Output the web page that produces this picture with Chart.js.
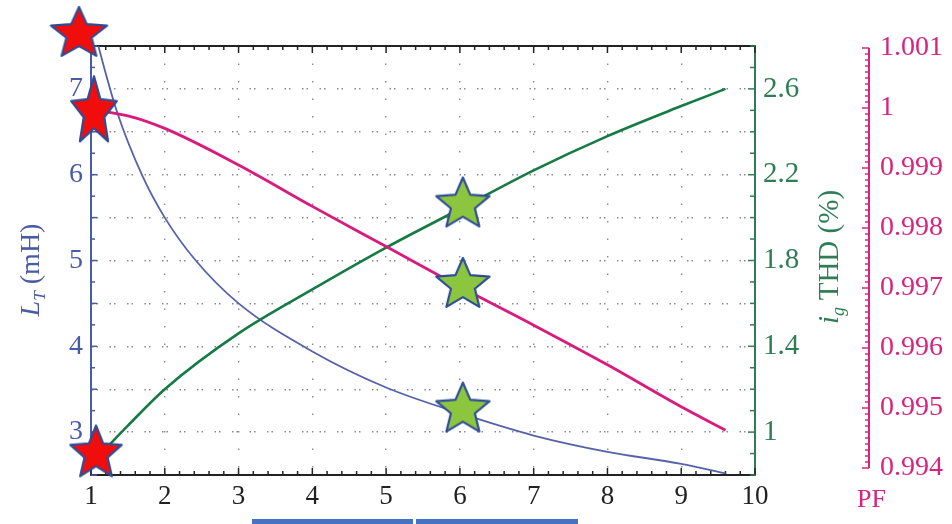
<!DOCTYPE html>
<html>
<head>
<meta charset="utf-8">
<script src="https://cdn.jsdelivr.net/npm/chart.js@4.4.1/dist/chart.umd.min.js"></script>
<style>
  body { margin: 0; background: #fff; }
  #wrap { position: relative; width: 952px; height: 524px; overflow: hidden; font-family: "Liberation Serif", serif; }
  canvas { position: absolute; left: 0; top: 0; }
  .ttl { position: absolute; width: 200px; height: 30px; line-height: 30px; white-space: nowrap; text-align: center; transform: rotate(-90deg); font-size: 28px; }
  .ttl sub { font-size: 0.62em; vertical-align: -0.35em; line-height: 0; font-style: italic; }
  .bar { position: absolute; background: #4472c4; }
</style>
</head>
<body>
<div id="wrap">
  <canvas id="chart" width="952" height="524"></canvas>
  <div class="ttl" style="left:-70px; top:255px; color:#4a5ba6;"><i>L</i><sub>T</sub> (mH)</div>
  <div class="ttl" style="left:728px; top:242px; color:#2f7d55; font-size:29px;"><i>i</i><sub>g</sub> THD (%)</div>
  <div style="position:absolute; left:857px; top:485px; font-size:26px; line-height:28px; color:#d6257f;">PF</div>
  <div class="bar" style="left:252px; top:519px; width:161px; height:5px;"></div>
  <div class="bar" style="left:416px; top:519px; width:162px; height:5px;"></div>
</div>
<script>
// readings
const ltX = [1, 1.1, 1.35, 1.7, 2, 2.4, 3, 4, 5, 6, 7, 8, 9, 9.6];
const ltValues = [7.85, 7.5, 6.74, 5.98, 5.5, 5.02, 4.5, 3.94, 3.52, 3.22, 2.96, 2.77, 2.63, 2.52];

const thdX = [1, 1.25, 1.5, 2, 3, 4, 5, 6, 7, 8, 9, 9.6];
const thdValues = [0.84, 0.94, 1.03, 1.2, 1.46, 1.665, 1.86, 2.04, 2.22, 2.38, 2.52, 2.6];

const pfX = [1, 1.5, 2, 3, 4, 5, 6, 7, 8, 9, 9.6];
const pfValues = [0.99997, 0.99987, 0.99966, 0.99905, 0.99836, 0.99769, 0.99702, 0.99638, 0.99572, 0.99502, 0.99463];

const thdTicks = [1, 1.4, 1.8, 2.2, 2.6];
const pfTicks = [0.994, 0.995, 0.996, 0.997, 0.998, 0.999, 1, 1.001];

// star marks: red at the start, green at x = 6
const ltMarks = [{ x: 0.837, y: 7.64 }, { x: 6.04, y: 3.262 }];
const thdMarks = [{ x: 1.068, y: 0.9 }, { x: 6.04, y: 2.061 }];
const pfMarks = [{ x: 1.04, y: 0.99993 }, { x: 6.04, y: 0.99705 }];

const BLUE = '#4a5ba6';
const GREEN = '#2f7d55';
const PINK = '#d6257f';

function makeStar(rx, ry, fill) {
  const w = Math.ceil(2 * rx * 0.951 + 8);
  const h = Math.ceil(2 * ry + 8);
  const c = document.createElement('canvas');
  c.width = w;
  c.height = h;
  const g = c.getContext('2d');
  g.beginPath();
  for (let i = 0; i < 10; i++) {
    const a = -Math.PI / 2 + i * Math.PI / 5;
    const r = i % 2 === 0 ? 1 : 0.45;
    const px = w / 2 + rx * r * Math.cos(a);
    const py = h / 2 + ry * r * Math.sin(a);
    if (i === 0) g.moveTo(px, py); else g.lineTo(px, py);
  }
  g.closePath();
  g.fillStyle = fill;
  g.fill();
  g.lineWidth = 2.2;
  g.lineJoin = 'round';
  g.strokeStyle = '#2f4d96';
  g.stroke();
  return c;
}

const redStar = makeStar(29.5, 27, '#f20d0d');
const redTall = makeStar(24, 36, '#f20d0d');
const redBottom = makeStar(27, 28, '#f20d0d');
const greenStar = makeStar(28, 27, '#8cc63f');

function pts(xs, ys) {
  return xs.map((x, i) => ({ x: x, y: ys[i] }));
}

const serif = 'Liberation Serif';

const innerTicks = {
  id: 'innerTicks',
  beforeDatasetsDraw(chart) {
    const { ctx, chartArea: a, scales } = chart;
    const line = (x1, y1, x2, y2) => {
      ctx.beginPath();
      ctx.moveTo(x1, y1);
      ctx.lineTo(x2, y2);
      ctx.stroke();
    };
    ctx.save();
    ctx.lineWidth = 1.5;

    ctx.strokeStyle = '#222';
    for (let i = 0; i <= 45; i++) {
      const px = scales.x.getPixelForValue(1 + i * 0.2);
      const len = i % 5 === 0 ? 7 : 4;
      line(px, a.bottom, px, a.bottom - len);
      line(px, a.top, px, a.top + len);
    }

    ctx.strokeStyle = BLUE;
    for (let i = 0; i <= 20; i++) {
      const py = scales.yL.getPixelForValue(2.5 + i * 0.25);
      line(a.left, py, a.left + (i % 2 === 0 ? 6 : 4), py);
    }

    ctx.strokeStyle = GREEN;
    for (let i = 0; i <= 20; i++) {
      const py = scales.yG.getPixelForValue(0.8 + i * 0.1);
      line(a.right, py, a.right - ((i - 2) % 4 === 0 ? 7 : 5), py);
    }

    ctx.strokeStyle = PINK;
    const px = scales.yP.left;
    ctx.lineWidth = 2;
    line(px, scales.yP.getPixelForValue(1.001), px, scales.yP.getPixelForValue(0.994));
    ctx.lineWidth = 1.5;
    for (let i = 0; i <= 70; i++) {
      const py = scales.yP.getPixelForValue(0.994 + i * 0.0001);
      line(px, py, px - (i % 10 === 0 ? 7 : 4), py);
    }
    ctx.restore();
  }
};

new Chart(document.getElementById('chart'), {
  type: 'line',
  data: {
    datasets: [
      {
        data: pts(ltX, ltValues), yAxisID: 'yL', order: 3,
        borderColor: '#5562aa', borderWidth: 1.8, pointRadius: 0,
        cubicInterpolationMode: 'monotone'
      },
      {
        data: pts(thdX, thdValues), yAxisID: 'yG', order: 2,
        borderColor: '#167a45', borderWidth: 2.6, pointRadius: 0,
        cubicInterpolationMode: 'monotone'
      },
      {
        data: pts(pfX, pfValues), yAxisID: 'yP', order: 1,
        borderColor: '#d81b7c', borderWidth: 2.8, pointRadius: 0,
        cubicInterpolationMode: 'monotone'
      },
      {
        data: ltMarks, yAxisID: 'yL', showLine: false, clip: false, order: 0,
        pointStyle: [redStar, greenStar], pointRadius: 40
      },
      {
        data: pfMarks, yAxisID: 'yP', showLine: false, clip: false, order: 0,
        pointStyle: [redTall, greenStar], pointRadius: 40
      },
      {
        data: thdMarks, yAxisID: 'yG', showLine: false, clip: false, order: 0,
        pointStyle: [redBottom, greenStar], pointRadius: 40
      }
    ]
  },
  options: {
    responsive: false,
    animation: false,
    events: [],
    layout: { padding: { top: 46, left: 0, right: 0, bottom: 0 } },
    plugins: { legend: { display: false }, tooltip: { enabled: false } },
    scales: {
      x: {
        type: 'linear', position: 'bottom', min: 1, max: 10,
        afterFit: s => { s.height = 49; },
        ticks: { stepSize: 1, color: '#222', padding: 6, font: { family: serif, size: 27 } },
        grid: { color: '#8a8a8a', lineWidth: 1.4, drawTicks: false },
        border: { color: '#222', width: 2, dash: [1.5, 16] }
      },
      xTop: {
        type: 'linear', position: 'top', min: 1, max: 10,
        afterFit: s => { s.height = 0; },
        ticks: { display: false },
        grid: { display: false, drawTicks: false },
        border: { color: '#222', width: 2 }
      },
      yL: {
        type: 'linear', position: 'left', min: 2.5, max: 7.5,
        afterFit: s => { s.width = 91; },
        ticks: {
          stepSize: 0.5, color: BLUE, padding: 8, font: { family: serif, size: 28 },
          callback: v => Number.isInteger(v) ? v : ''
        },
        grid: { color: '#8a8a8a', lineWidth: 1.4, drawTicks: false },
        border: { color: BLUE, width: 2, dash: [1.5, 3, 1.5, 11.5] }
      },
      yG: {
        type: 'linear', position: 'right', min: 0.8, max: 2.8,
        afterFit: s => { s.width = 114; },
        afterBuildTicks: s => { s.ticks = thdTicks.map(v => ({ value: v })); },
        ticks: {
          color: GREEN, padding: 8, font: { family: serif, size: 29 },
          callback: v => String(+v.toFixed(1))
        },
        grid: { display: false, drawTicks: false },
        border: { color: GREEN, width: 2 }
      },
      yP: {
        type: 'linear', position: 'right', min: 0.9938833, max: 1.0010333,
        afterFit: s => { s.width = 83; },
        afterBuildTicks: s => { s.ticks = pfTicks.map(v => ({ value: v })); },
        ticks: {
          color: PINK, padding: 11, font: { family: serif, size: 28 },
          callback: v => String(+v.toFixed(3))
        },
        grid: { display: false, drawTicks: false },
        border: { display: false }
      }
    }
  },
  plugins: [innerTicks]
});
</script>
</body>
</html>
